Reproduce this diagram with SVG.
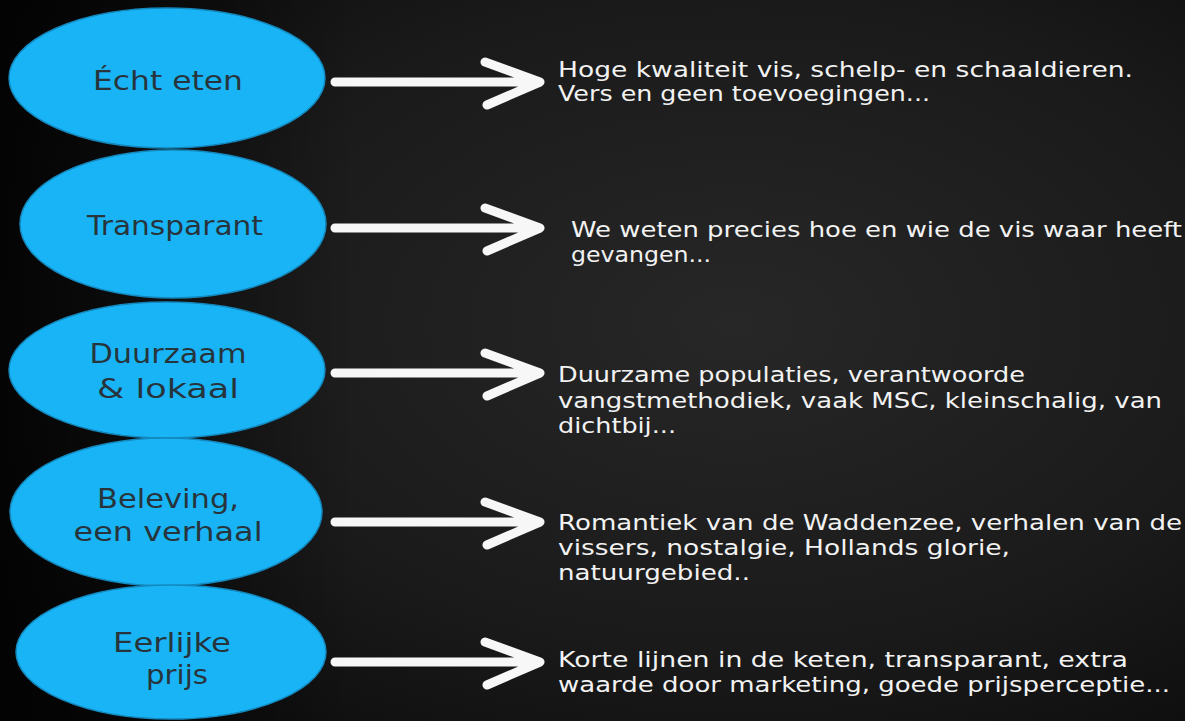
<svg xmlns="http://www.w3.org/2000/svg" xmlns:xlink="http://www.w3.org/1999/xlink" width="1185" height="721" viewBox="0 0 1185 721">
  <defs>
    <radialGradient id="board" cx="62%" cy="45%" r="75%">
      <stop offset="0" stop-color="#272727"/>
      <stop offset="0.6" stop-color="#1a1a1a"/>
      <stop offset="1" stop-color="#0b0b0b"/>
    </radialGradient>
    <linearGradient id="leftShade" x1="0" y1="0" x2="1" y2="0">
      <stop offset="0" stop-color="#000" stop-opacity="0.75"/>
      <stop offset="0.3" stop-color="#000" stop-opacity="0"/>
    </linearGradient>
    <path id="arrow" d="M0 0 H203 M150 -20 L205 0 L152 23"/>
  </defs>
  <style>
    .node { fill: #19b4f5; stroke: #1488bd; stroke-width: 1.5; }
    .label { font-family: "DejaVu Sans", "Liberation Sans", sans-serif; font-size: 26px; fill: #27343b; text-anchor: middle; }
    .desc { font-family: "DejaVu Sans", "Liberation Sans", sans-serif; font-size: 22px; fill: #f2f2f2; }
    .arrow { fill: none; stroke: #f7f7f7; stroke-width: 9; stroke-linecap: round; stroke-linejoin: round; }
  </style>

  <rect x="0" y="0" width="1185" height="721" fill="url(#board)"/>
  <rect x="0" y="0" width="1185" height="721" fill="url(#leftShade)"/>

  <g id="node-echt-eten">
    <ellipse class="node" cx="167" cy="78" rx="158" ry="70"/>
    <text class="label" x="168" y="90" textLength="150" lengthAdjust="spacingAndGlyphs">Écht eten</text>
  </g>
  <g id="node-transparant">
    <ellipse class="node" cx="173" cy="224" rx="153" ry="74"/>
    <text class="label" x="175" y="235" textLength="176" lengthAdjust="spacingAndGlyphs">Transparant</text>
  </g>
  <g id="node-duurzaam">
    <ellipse class="node" cx="167" cy="370" rx="158" ry="68"/>
    <text class="label" x="168" y="363" textLength="157" lengthAdjust="spacingAndGlyphs">Duurzaam</text>
    <text class="label" x="168" y="398" textLength="142" lengthAdjust="spacingAndGlyphs">&amp; lokaal</text>
  </g>
  <g id="node-beleving">
    <ellipse class="node" cx="166" cy="512" rx="156" ry="74"/>
    <text class="label" x="168" y="508" textLength="142" lengthAdjust="spacingAndGlyphs">Beleving,</text>
    <text class="label" x="168" y="541" textLength="189" lengthAdjust="spacingAndGlyphs">een verhaal</text>
  </g>
  <g id="node-eerlijke-prijs">
    <ellipse class="node" cx="171" cy="652" rx="155" ry="67"/>
    <text class="label" x="172" y="652" textLength="118" lengthAdjust="spacingAndGlyphs">Eerlijke</text>
    <text class="label" x="177" y="684" textLength="62" lengthAdjust="spacingAndGlyphs">prijs</text>
  </g>

  <g id="connectors">
    <use class="arrow" xlink:href="#arrow" href="#arrow" x="335" y="82"/>
    <use class="arrow" xlink:href="#arrow" href="#arrow" x="335" y="228"/>
    <use class="arrow" xlink:href="#arrow" href="#arrow" x="335" y="373"/>
    <use class="arrow" xlink:href="#arrow" href="#arrow" x="335" y="522"/>
    <use class="arrow" xlink:href="#arrow" href="#arrow" x="335" y="662"/>
  </g>

  <g id="desc-echt-eten">
    <text class="desc" x="558" y="77" textLength="575" lengthAdjust="spacingAndGlyphs">Hoge kwaliteit vis, schelp- en schaaldieren.</text>
    <text class="desc" x="558" y="101" textLength="372" lengthAdjust="spacingAndGlyphs">Vers en geen toevoegingen...</text>
  </g>
  <g id="desc-transparant">
    <text class="desc" x="571" y="237" textLength="611" lengthAdjust="spacingAndGlyphs">We weten precies hoe en wie de vis waar heeft</text>
    <text class="desc" x="571" y="262" textLength="140" lengthAdjust="spacingAndGlyphs">gevangen...</text>
  </g>
  <g id="desc-duurzaam">
    <text class="desc" x="558" y="382" textLength="467" lengthAdjust="spacingAndGlyphs">Duurzame populaties, verantwoorde</text>
    <text class="desc" x="558" y="408" textLength="604" lengthAdjust="spacingAndGlyphs">vangstmethodiek, vaak MSC, kleinschalig, van</text>
    <text class="desc" x="558" y="433" textLength="118" lengthAdjust="spacingAndGlyphs">dichtbij...</text>
  </g>
  <g id="desc-beleving">
    <text class="desc" x="558" y="530" textLength="624" lengthAdjust="spacingAndGlyphs">Romantiek van de Waddenzee, verhalen van de</text>
    <text class="desc" x="558" y="555" textLength="452" lengthAdjust="spacingAndGlyphs">vissers, nostalgie, Hollands glorie,</text>
    <text class="desc" x="558" y="580" textLength="192" lengthAdjust="spacingAndGlyphs">natuurgebied..</text>
  </g>
  <g id="desc-eerlijke-prijs">
    <text class="desc" x="558" y="667" textLength="570" lengthAdjust="spacingAndGlyphs">Korte lijnen in de keten, transparant, extra</text>
    <text class="desc" x="558" y="692" textLength="612" lengthAdjust="spacingAndGlyphs">waarde door marketing, goede prijsperceptie...</text>
  </g>
</svg>
